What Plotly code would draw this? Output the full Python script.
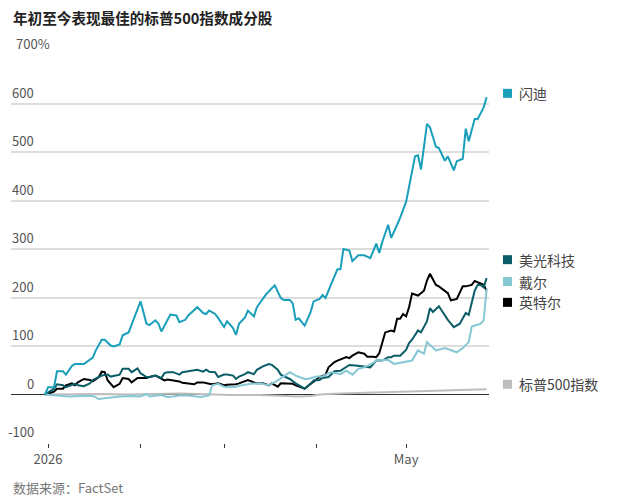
import plotly.graph_objects as go

FONT = "Noto Sans CJK SC"

# ---- data (percent change year to date) ----
sandisk_dates = ["2025-12-31","2026-01-01","2026-01-03","2026-01-04","2026-01-06","2026-01-07","2026-01-09","2026-01-10",
    "2026-01-13","2026-01-15","2026-01-16","2026-01-17","2026-01-19","2026-01-20","2026-01-22","2026-01-23","2026-01-25",
    "2026-01-26","2026-01-28","2026-01-29","2026-01-31","2026-02-01","2026-02-03","2026-02-04","2026-02-06","2026-02-07",
    "2026-02-08","2026-02-10","2026-02-11","2026-02-13","2026-02-14","2026-02-16","2026-02-17","2026-02-20","2026-02-22",
    "2026-02-23","2026-02-24","2026-02-26","2026-02-27","2026-03-01","2026-03-02","2026-03-04","2026-03-05","2026-03-06",
    "2026-03-08","2026-03-09","2026-03-11","2026-03-12","2026-03-14","2026-03-15","2026-03-17","2026-03-18","2026-03-20",
    "2026-03-21","2026-03-23","2026-03-24","2026-03-25","2026-03-26","2026-03-28","2026-03-30","2026-03-31","2026-04-02",
    "2026-04-03","2026-04-04","2026-04-06","2026-04-08","2026-04-09","2026-04-10","2026-04-12","2026-04-13","2026-04-15",
    "2026-04-17","2026-04-19","2026-04-21","2026-04-22","2026-04-23","2026-04-25","2026-04-26","2026-04-28","2026-04-29",
    "2026-05-01","2026-05-02","2026-05-04","2026-05-05","2026-05-06","2026-05-08","2026-05-09","2026-05-11","2026-05-12",
    "2026-05-14","2026-05-15","2026-05-17","2026-05-18","2026-05-20","2026-05-21","2026-05-22","2026-05-24","2026-05-25",
    "2026-05-27","2026-05-28"]
sandisk_vals = [0,15,15,48,48,41,59,63,63,73,76,91,113,113,101,99,103,122,128,144,179,192,146,143,153,146,130,153,165,
    163,149,154,163,180,168,166,173,166,158,139,151,137,123,146,159,173,161,180,197,206,219,225,199,195,195,188,154,157,
    142,170,192,197,205,199,229,258,258,300,297,275,287,287,281,311,292,314,350,323,350,364,397,430,491,493,464,558,551,
    511,508,482,491,462,481,486,548,522,568,568,592,613]

micron_dates = ["2025-12-31","2026-01-03","2026-01-04","2026-01-06","2026-01-07","2026-01-09","2026-01-10","2026-01-11",
    "2026-01-13","2026-01-15","2026-01-16","2026-01-19","2026-01-21","2026-01-22","2026-01-25","2026-01-26","2026-01-28",
    "2026-01-29","2026-01-31","2026-02-01","2026-02-03","2026-02-04","2026-02-06","2026-02-08","2026-02-09","2026-02-10",
    "2026-02-12","2026-02-14","2026-02-15","2026-02-17","2026-02-20","2026-02-22","2026-02-23","2026-02-24","2026-02-26",
    "2026-02-27","2026-03-01","2026-03-02","2026-03-04","2026-03-05","2026-03-06","2026-03-08","2026-03-09","2026-03-11",
    "2026-03-12","2026-03-14","2026-03-16","2026-03-17","2026-03-19","2026-03-20","2026-03-22","2026-03-23","2026-03-25",
    "2026-03-26","2026-03-28","2026-03-30","2026-03-31","2026-04-02","2026-04-03","2026-04-05","2026-04-06","2026-04-07",
    "2026-04-09","2026-04-12","2026-04-14","2026-04-17","2026-04-19","2026-04-21","2026-04-23","2026-04-25","2026-04-26",
    "2026-04-27","2026-04-29","2026-05-01","2026-05-02","2026-05-03","2026-05-05","2026-05-06","2026-05-08","2026-05-09",
    "2026-05-10","2026-05-12","2026-05-13","2026-05-15","2026-05-17","2026-05-19","2026-05-21","2026-05-22","2026-05-24",
    "2026-05-25","2026-05-26","2026-05-27","2026-05-28"]
micron_vals = [0,12,21,19,15,20,22,19,17,23,30,39,41,37,41,53,53,46,54,44,36,36,39,34,44,46,46,41,46,48,51,47,51,47,46,
    36,41,41,39,32,37,42,46,42,51,58,63,61,51,41,36,32,23,19,12,22,29,30,34,36,42,48,49,61,60,58,56,70,70,77,77,80,80,92,
    106,113,132,128,151,178,170,182,173,154,139,146,168,164,214,226,226,221,240]

dell_dates = ["2025-12-31","2026-01-05","2026-01-08","2026-01-13","2026-01-16","2026-01-18","2026-01-21","2026-01-25",
    "2026-01-29","2026-02-01","2026-02-03","2026-02-04","2026-02-08","2026-02-10","2026-02-12","2026-02-14","2026-02-17",
    "2026-02-21","2026-02-24","2026-02-25","2026-02-27","2026-03-01","2026-03-03","2026-03-05","2026-03-07","2026-03-10",
    "2026-03-13","2026-03-16","2026-03-19","2026-03-21","2026-03-23","2026-03-25","2026-03-28","2026-03-29","2026-04-01",
    "2026-04-03","2026-04-04","2026-04-06","2026-04-09","2026-04-11","2026-04-13","2026-04-15","2026-04-17","2026-04-20",
    "2026-04-21","2026-04-23","2026-04-25","2026-04-27","2026-04-29","2026-05-01","2026-05-03","2026-05-05","2026-05-07",
    "2026-05-08","2026-05-10","2026-05-11","2026-05-14","2026-05-16","2026-05-18","2026-05-20","2026-05-22","2026-05-23",
    "2026-05-25","2026-05-26","2026-05-27","2026-05-28"]
dell_vals = [0,-2,-4,-3,-3,-9,-7,-4,-3,-4,1,-4,-1,-5,-4,-2,-2,-5,-2,19,22,16,15,16,19,22,23,19,29,37,46,39,32,32,37,
    37,41,46,42,49,41,53,56,65,70,71,71,63,65,67,70,91,84,108,96,91,96,91,87,96,108,140,143,146,153,218]

intel_dates = ["2025-12-31","2026-01-02","2026-01-03","2026-01-04","2026-01-06","2026-01-07","2026-01-09","2026-01-10",
    "2026-01-11","2026-01-13","2026-01-15","2026-01-16","2026-01-18","2026-01-19","2026-01-20","2026-01-21","2026-01-23",
    "2026-01-25","2026-01-26","2026-01-28","2026-01-29","2026-01-31","2026-02-01","2026-02-03","2026-02-04","2026-02-06",
    "2026-02-07","2026-02-09","2026-02-10","2026-02-12","2026-02-14","2026-02-15","2026-02-17","2026-02-19","2026-02-20",
    "2026-02-22","2026-02-24","2026-02-25","2026-02-27","2026-03-01","2026-03-02","2026-03-04","2026-03-05","2026-03-06",
    "2026-03-08","2026-03-09","2026-03-11","2026-03-12","2026-03-14","2026-03-16","2026-03-17","2026-03-19","2026-03-20",
    "2026-03-22","2026-03-24","2026-03-25","2026-03-27","2026-03-28","2026-03-30","2026-04-01","2026-04-02","2026-04-04",
    "2026-04-05","2026-04-07","2026-04-08","2026-04-11","2026-04-12","2026-04-13","2026-04-15","2026-04-17","2026-04-18",
    "2026-04-20","2026-04-21","2026-04-22","2026-04-23","2026-04-24","2026-04-26","2026-04-27","2026-04-28","2026-04-29",
    "2026-04-30","2026-05-01","2026-05-02","2026-05-03","2026-05-05","2026-05-07","2026-05-08","2026-05-09","2026-05-11",
    "2026-05-12","2026-05-15","2026-05-16","2026-05-18","2026-05-20","2026-05-21","2026-05-23","2026-05-24","2026-05-26",
    "2026-05-27","2026-05-28"]
intel_vals = [0,3,6,12,12,19,23,19,25,32,30,27,36,47,46,29,15,22,34,32,25,34,34,34,36,39,36,29,31,29,27,24,22,21,25,25,
    22,21,23,19,20,20,21,23,27,30,25,23,23,19,23,16,23,23,22,19,15,12,22,32,36,41,56,67,70,77,75,80,87,84,78,78,77,85,108,
    128,132,130,156,156,166,161,180,208,204,214,235,249,226,223,209,194,197,223,223,226,234,229,226,214]

spx_dates = ["2025-12-31","2026-01-08","2026-01-18","2026-01-28","2026-02-04","2026-02-14","2026-02-21","2026-03-03",
    "2026-03-13","2026-03-20","2026-03-26","2026-03-30","2026-04-02","2026-04-09","2026-04-19","2026-04-29","2026-05-09",
    "2026-05-19","2026-05-28"]
spx_vals = [0,1,1,0,1,2,1,-1,-1,-2,-4,-3,0,2,4,6,8,10,11]

series_names = ["标普500指数", "英特尔", "美光科技", "戴尔", "闪迪"]
series_colors = ["#bdbdbd", "#000000", "#0b5d67", "#86c7d4", "#1a9fbb"]
label_positions = [21, 190, 278, 233, 621]   # legend label anchor values (%)

y_tick_vals = [-100, 0, 100, 200, 300, 400, 500, 600, 700]
y_tick_text = ["-100", "0", "100", "200", "300", "400", "500", "600", "700%"]
x_tick_vals = ["2026-01-01", "2026-02-01", "2026-03-01", "2026-04-01", "2026-05-01"]
x_tick_text = ["2026", "", "", "", "May"]

all_dates = [spx_dates, intel_dates, micron_dates, dell_dates, sandisk_dates]
all_vals = [spx_vals, intel_vals, micron_vals, dell_vals, sandisk_vals]

W, H = 625, 500
L, R, T, B = 11, 136, 55, 57
pw = W - L - R
ph = H - T - B

fig = go.Figure()
for name, color, d, v in zip(series_names, series_colors, all_dates, all_vals):
    fig.add_trace(go.Scatter(x=d, y=v, mode="lines", name=name,
                             line=dict(color=color, width=2), showlegend=False,
                             hoverinfo="skip"))


def px_x(p):
    return (p - L) / pw

def px_y(p):
    return (H - B - p) / ph

annotations = []
shapes = []

# y tick labels above gridlines
for val, txt in zip(y_tick_vals, y_tick_text):
    if txt.endswith("%"):
        annotations.append(dict(x=px_x(14), xref="paper", xanchor="left", y=val, yref="y",
                                yanchor="bottom", text=txt, showarrow=False,
                                font=dict(family=FONT, size=13, color="#555555")))
    else:
        annotations.append(dict(x=px_x(36), xref="paper", xanchor="right", y=val, yref="y",
                                yanchor="bottom", text=txt, showarrow=False,
                                font=dict(family=FONT, size=13, color="#555555")))

# end labels with coloured squares
for name, color, pos in zip(series_names, series_colors, label_positions):
    annotations.append(dict(x=px_x(517), xref="paper", xanchor="left", y=pos, yref="y",
                            yanchor="middle", text=name, showarrow=False,
                            font=dict(family=FONT, size=14, color="#444444")))
    shapes.append(dict(type="rect", xref="paper", yref="y", xsizemode="pixel", ysizemode="pixel",
                       xanchor=px_x(507.5), yanchor=pos, x0=-4.5, x1=4.5, y0=-4.5, y1=4.5,
                       fillcolor=color, line=dict(width=0)))

# title and source
annotations.append(dict(x=0, xref="paper", xanchor="left", y=px_y(18), yref="paper", yanchor="middle",
                        text="<b>年初至今表现最佳的标普500指数成分股</b>", showarrow=False,
                        font=dict(family=FONT, size=14.6, color="#222222")))
annotations.append(dict(x=0, xref="paper", xanchor="left", y=px_y(487), yref="paper", yanchor="middle",
                        text="数据来源：FactSet", showarrow=False,
                        font=dict(family=FONT, size=13, color="#777777")))

fig.update_layout(
    width=W, height=H,
    margin=dict(l=L, r=R, t=T, b=B, pad=0),
    paper_bgcolor="white", plot_bgcolor="white",
    font=dict(family=FONT, size=13, color="#555555"),
    annotations=annotations, shapes=shapes,
    xaxis=dict(type="date", range=["2025-12-19 14:00", "2026-05-28 19:00"],
               tickvals=x_tick_vals, ticktext=x_tick_text, ticks="outside", ticklen=4,
               tickcolor="#333333", tickwidth=1, showgrid=False, showline=False, zeroline=False,
               tickfont=dict(family=FONT, size=13, color="#555555"), fixedrange=True),
    yaxis=dict(range=[-100, 700], tickmode="array", tickvals=y_tick_vals,
               showticklabels=False, ticks="",
               showgrid=True, gridcolor="#dddddd", gridwidth=1.5,
               zeroline=True, zerolinecolor="#333333", zerolinewidth=1,
               showline=False, fixedrange=True),
)

fig.write_html("out.html")
